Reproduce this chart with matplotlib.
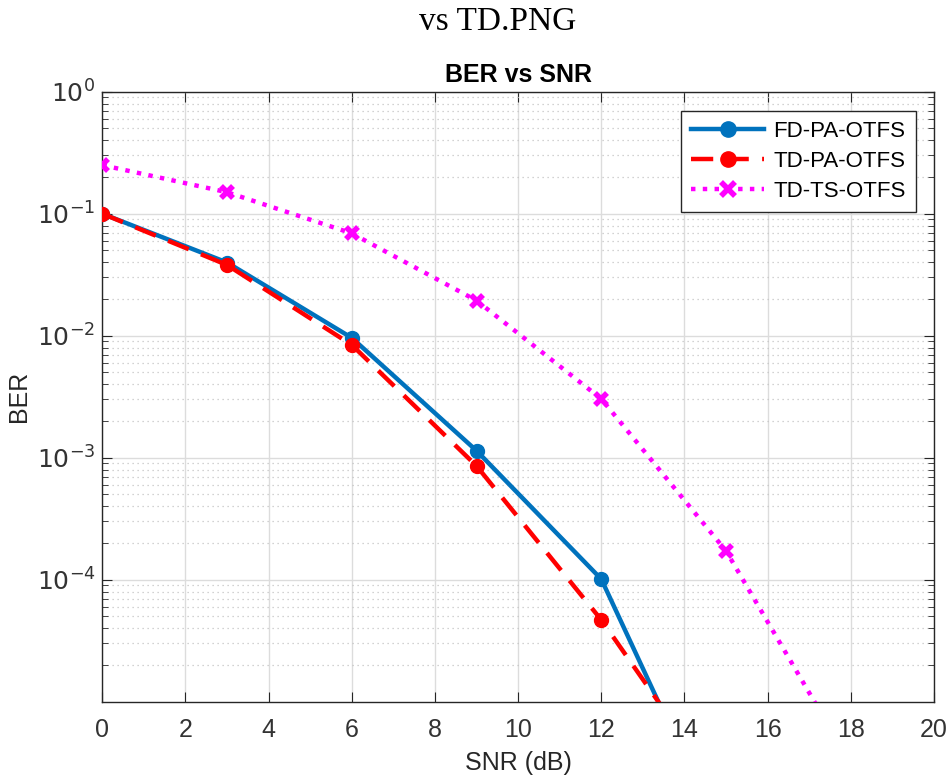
import matplotlib
matplotlib.use("Agg")
import matplotlib.pyplot as plt
import numpy as np
from matplotlib.ticker import LogLocator, NullFormatter, MultipleLocator

snr_fd = [0, 3, 6, 9, 12, 15]
ber_fd = [0.100, 0.0398, 0.0096, 0.00114, 1.01e-4, 6.4e-7]
snr_td = [0, 3, 6, 9, 12, 15]
ber_td = [0.100, 0.038, 0.0084, 0.000855, 4.68e-5, 1.6e-6]
snr_ts = [0, 3, 6, 9, 12, 15, 18]
ber_ts = [0.25, 0.15, 0.069, 0.0194, 0.00303, 1.72e-4, 3.1e-6]

plt.rcParams['font.family'] = ['Liberation Sans', 'DejaVu Sans']

fig = plt.figure(figsize=(9.48, 7.8), dpi=100)
ax = fig.add_axes([102.3/948, 1-701.7/780, (934-102.3)/948, (701.7-91.7)/780])

ax.plot(snr_fd, ber_fd, '-o', color='#0072BD', lw=3.2, ms=10, label='FD-PA-OTFS', zorder=3)
ax.plot(snr_td, ber_td, '--o', color='#FF0000', lw=3.2, ms=10, dashes=(5, 3), label='TD-PA-OTFS', zorder=4)
ax.plot(snr_ts, ber_ts, ':x', color='#FF00FF', lw=3.2, ms=9, mew=4, label='TD-TS-OTFS', zorder=3)

ax.set_yscale('log')
ax.set_xlim(0, 20)
ax.set_ylim(1e-5, 1)
ax.xaxis.set_major_locator(MultipleLocator(2))
ax.set_yticks([1e0, 1e-1, 1e-2, 1e-3, 1e-4])
ax.set_yticklabels([r'$10^{0}$', r'$10^{-1}$', r'$10^{-2}$', r'$10^{-3}$', r'$10^{-4}$'])
ax.yaxis.set_minor_locator(LogLocator(base=10, subs=np.arange(2, 10), numticks=20))
ax.yaxis.set_minor_formatter(NullFormatter())

ax.grid(True, which='major', color='#dcdcdc', lw=1.0, ls='-')
ax.grid(True, which='minor', axis='y', color='#c4c4c4', lw=0.9, ls=(0, (1, 3)))
ax.set_axisbelow(True)

for s in ax.spines.values():
    s.set_color('#262626')
    s.set_linewidth(1.0)
ax.tick_params(which='both', direction='in', top=True, right=True, colors='#262626', labelsize=18)
ax.tick_params(axis='both', labelcolor='#333333')
ax.tick_params(which='major', length=7)
ax.tick_params(which='minor', length=4)
ax.tick_params(axis='x', pad=12)
ax.tick_params(axis='y', pad=5)

ax.set_xlabel('SNR (dB)', fontsize=18, color='#262626', labelpad=6)
ax.set_ylabel('BER', fontsize=18, color='#262626', labelpad=4)
ax.set_title('BER vs SNR', fontsize=18, fontweight='bold', color='#000000', pad=7)

leg = ax.legend(loc='upper right', bbox_to_anchor=(0.978, 0.968), fontsize=16, frameon=True,
                fancybox=False, edgecolor='#262626', framealpha=1, borderpad=0.45,
                labelspacing=0.4, handlelength=3.3, handletextpad=0.4, borderaxespad=0,
                markerscale=1.1)
leg.get_frame().set_linewidth(1.0)

fig.text(498/948, 1-22/780, 'vs TD.PNG', ha='center', va='center', fontsize=24,
         family=['Liberation Serif', 'DejaVu Serif'])

fig.savefig('out.png', dpi=100)
